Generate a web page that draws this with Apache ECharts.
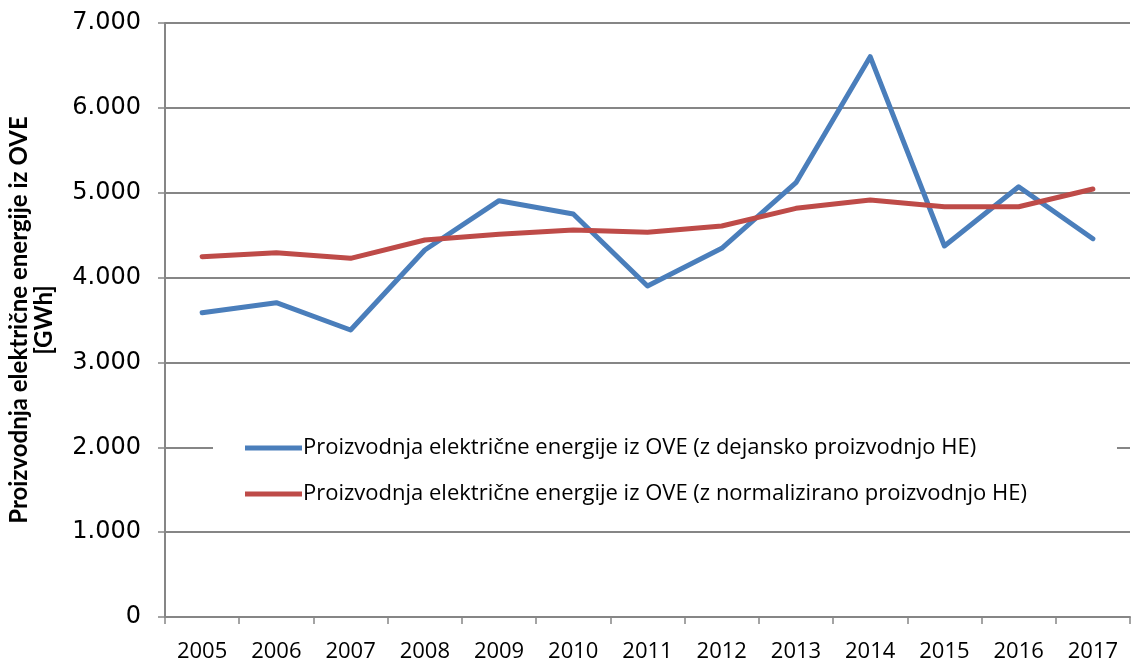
<!DOCTYPE html>
<html>
<head>
<meta charset="utf-8">
<script src="https://cdn.jsdelivr.net/npm/echarts@6/dist/echarts.min.js"></script>
<style>
  html, body { margin: 0; padding: 0; background: #ffffff; }
  #chart { width: 1136px; height: 664px; }
</style>
</head>
<body>
<div id="chart"></div>
<script>
// data
const years = ['2005', '2006', '2007', '2008', '2009', '2010', '2011', '2012', '2013', '2014', '2015', '2016', '2017'];
const actualHydro = [3586, 3704, 3382, 4325, 4906, 4749, 3900, 4345, 5118, 6603, 4372, 5071, 4458];
const normalizedHydro = [4246, 4293, 4227, 4443, 4510, 4560, 4533, 4608, 4816, 4914, 4835, 4835, 5044];
const seriesNames = [
    'Proizvodnja električne energije iz OVE (z dejansko proizvodnjo HE)',
    'Proizvodnja električne energije iz OVE (z normalizirano proizvodnjo HE)'
];
const axisTitle = 'Proizvodnja električne energije iz OVE\n[GWh]';

const textFont = '"Open Sans", Lato, sans-serif';
const gridGray = '#868686';

const chart = echarts.init(document.getElementById('chart'));

chart.setOption({
    backgroundColor: '#ffffff',
    animation: false,
    color: ['#4a7ebb', '#be4b48'],
    grid: { left: 165, right: 6, top: 23, bottom: 47, outerBoundsMode: 'none' },
    legend: {
        orient: 'vertical',
        left: 213,
        top: 427,
        itemWidth: 57,
        itemHeight: 5,
        itemGap: 24,
        padding: [10, 90, 8, 32],
        backgroundColor: '#ffffff',
        icon: 'rect',
        textStyle: { fontFamily: textFont, fontSize: 22, color: '#000000', padding: [0, 0, 0, -4] },
        data: seriesNames
    },
    xAxis: {
        type: 'category',
        data: years,
        boundaryGap: true,
        axisLine: { lineStyle: { color: gridGray, width: 2 } },
        axisTick: { show: true, alignWithLabel: false, length: 7, lineStyle: { color: gridGray, width: 1.5 } },
        axisLabel: { fontFamily: textFont, fontSize: 22, color: '#000000', margin: 24 }
    },
    yAxis: {
        type: 'value',
        min: 0,
        max: 7000,
        interval: 1000,
        name: axisTitle,
        nameLocation: 'middle',
        nameRotate: 90,
        nameGap: 108,
        nameTextStyle: {
            fontFamily: 'Lato, sans-serif', fontSize: 24, fontWeight: 'bold', color: '#000000',
            lineHeight: 25, align: 'center'
        },
        axisLine: { show: true, lineStyle: { color: gridGray, width: 2 } },
        axisTick: { show: true, length: 7, lineStyle: { color: gridGray, width: 1.5 } },
        splitLine: { lineStyle: { color: gridGray, width: 2 } },
        axisLabel: {
            fontFamily: '"DejaVu Sans", Verdana, sans-serif',
            fontSize: 24,
            color: '#000000',
            margin: 24,
            formatter: v => v === 0 ? '0' : (v / 1000) + '.000'
        }
    },
    series: [
        {
            name: seriesNames[0],
            type: 'line',
            data: actualHydro,
            symbol: 'none',
            lineStyle: { width: 5, cap: 'round', join: 'round' }
        },
        {
            name: seriesNames[1],
            type: 'line',
            data: normalizedHydro,
            symbol: 'none',
            lineStyle: { width: 5, cap: 'round', join: 'round' }
        }
    ]
});
</script>
</body>
</html>
